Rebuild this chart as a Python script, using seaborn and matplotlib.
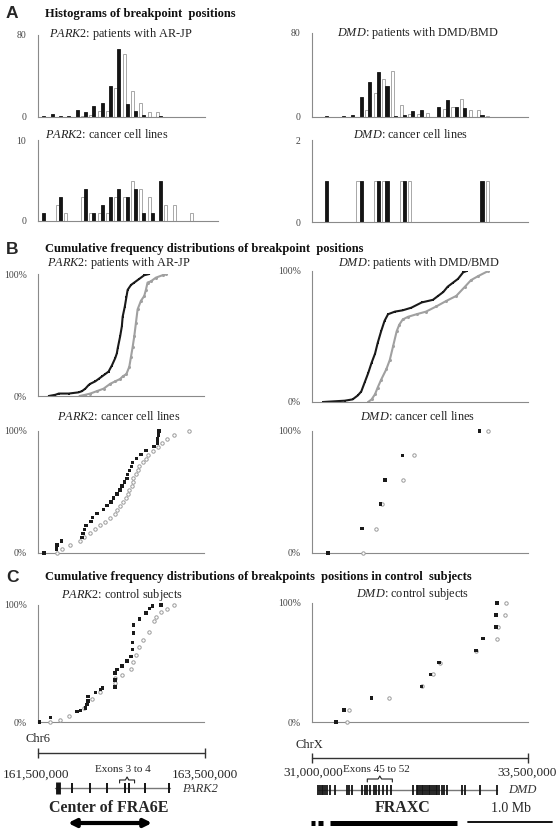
import numpy as np
import pandas as pd
import matplotlib
matplotlib.use("Agg")
import matplotlib.pyplot as plt
import seaborn as sns

# ---------------- data ----------------
PARK2_BINS = ["161.5", "161.6", "161.7", "161.8", "161.9", "162.0", "162.1", "162.2", "162.3", "162.4",
              "162.5", "162.6", "162.7", "162.8", "162.9", "163.0", "163.1", "163.2", "163.3", "163.4"]
DMD_BINS = ["31.0", "31.1", "31.2", "31.3", "31.4", "31.5", "31.6", "31.7", "31.8", "31.9",
            "32.0", "32.1", "32.2", "32.3", "32.4", "32.5", "32.6", "32.7", "32.8", "32.9",
            "33.0", "33.1", "33.2", "33.3", "33.4"]

# histogram counts (filled = black bars, open = white bars)
park2_pat_filled = [1, 3, 1, 1, 7, 5, 11, 14, 30, 66, 13, 6, 2, 0, 1, 0, 0, 0, 0, 0]
park2_pat_open = [0, 0, 0, 0, 0, 1, 2, 6, 6, 28, 61, 25, 14, 5, 5, 0, 0, 0, 0, 0]
dmd_pat_filled = [0, 1, 0, 1, 2, 19, 33, 43, 30, 1, 2, 6, 7, 0, 10, 16, 10, 9, 0, 2, 0, 0, 0, 0, 0]
dmd_pat_open = [0, 0, 0, 0, 0, 0, 7, 23, 36, 44, 11, 3, 3, 4, 0, 8, 10, 17, 7, 7, 1, 0, 0, 0, 0]
park2_cl_filled = [1, 0, 3, 0, 0, 4, 1, 2, 3, 4, 3, 4, 1, 1, 5, 0, 0, 0, 0, 0]
park2_cl_open = [0, 0, 2, 1, 0, 3, 1, 1, 1, 3, 3, 5, 4, 3, 0, 2, 2, 0, 1, 0]
dmd_cl_filled = [0, 1, 0, 0, 0, 1, 0, 1, 1, 0, 1, 0, 0, 0, 0, 0, 0, 0, 0, 1, 0, 0, 0, 0, 0]
dmd_cl_open = [0, 0, 0, 0, 0, 1, 0, 1, 1, 0, 1, 1, 0, 0, 0, 0, 0, 0, 0, 0, 1, 0, 0, 0, 0]

# cumulative distributions (position in Mb, cumulative %)
b1_fx = [161.63, 161.71, 161.75, 161.87, 161.99, 162.03, 162.07, 162.11, 162.13, 162.19, 162.23, 162.27,
         162.31, 162.35, 162.39, 162.43, 162.45, 162.46, 162.49, 162.51, 162.52, 162.545, 162.565, 162.58,
         162.62, 162.66, 162.72, 162.78, 162.84]
b1_fy = [0, 1, 2, 2, 3, 4, 6, 9, 10, 12, 14, 16, 18, 20, 25, 31, 35, 39, 49, 57, 65, 73, 81, 87, 91, 93, 96, 99, 100]
b1_ox = [162.0, 162.07, 162.13, 162.21, 162.29, 162.37, 162.43, 162.49, 162.52, 162.565, 162.60, 162.62, 162.64,
         162.66, 162.68, 162.70, 162.74, 162.78, 162.80, 162.82, 162.86, 162.92, 163.00, 163.04]
b1_oy = [0, 1, 2, 4, 6, 10, 12, 14, 16, 18, 24, 32, 40, 49, 60, 71, 78, 82, 87, 93, 94, 97, 99, 100]

b2_fx = [31.13, 31.38, 31.47, 31.53, 31.57, 31.61, 31.65, 31.69, 31.73, 31.76, 31.80, 31.84, 31.88, 31.96,
         32.05, 32.15, 32.27, 32.40, 32.46, 32.52, 32.57, 32.63, 32.69, 32.75, 32.79]
b2_fy = [0, 1, 2, 5, 8, 15, 22, 30, 37, 45, 54, 62, 67, 69, 70, 72, 76, 78, 81, 84, 88, 91, 94, 99, 100]
b2_ox = [31.65, 31.69, 31.73, 31.76, 31.80, 31.86, 31.90, 31.94, 31.98, 32.01, 32.05, 32.11, 32.21, 32.32,
         32.44, 32.55, 32.67, 32.77, 32.84, 32.92, 33.04]
b2_oy = [0, 2, 6, 11, 17, 25, 32, 43, 54, 59, 63, 65, 67, 69, 73, 77, 81, 88, 93, 96, 100]

b3_fx = [161.57, 161.72, 161.73, 161.78, 162.03, 162.04, 162.06, 162.08, 162.14, 162.16, 162.21, 162.29,
         162.33, 162.38, 162.41, 162.45, 162.49, 162.51, 162.54, 162.57, 162.58, 162.60, 162.63, 162.64,
         162.69, 162.74, 162.80, 162.90, 162.94, 162.94, 162.95, 162.96]
b3_ox = [161.73, 161.79, 161.89, 162.01, 162.06, 162.13, 162.19, 162.25, 162.31, 162.37, 162.43, 162.45,
         162.49, 162.52, 162.56, 162.58, 162.60, 162.63, 162.64, 162.65, 162.68, 162.70, 162.72, 162.76,
         162.80, 162.82, 162.88, 162.94, 162.99, 163.05, 163.14, 163.32]

b4_fx = [31.185, 31.58, 31.79, 31.845, 32.05, 32.94]
b4_ox = [31.59, 31.74, 31.81, 32.05, 32.18, 33.04]

c1_fx = [161.52, 161.65, 161.97, 162.01, 162.07, 162.09, 162.10, 162.10, 162.19, 162.25, 162.28, 162.43,
         162.43, 162.43, 162.45, 162.51, 162.57, 162.62, 162.64, 162.64, 162.65, 162.65, 162.72, 162.80,
         162.84, 162.88, 162.98]
c1_fy = [0, 4, 9, 10, 12, 15, 18, 22, 25, 28, 29, 30, 36, 42, 45, 48, 52, 56, 62, 68, 76, 83, 88, 93, 97, 99, 100]
c1_ox = [161.65, 161.77, 161.87, 162.05, 162.15, 162.25, 162.43, 162.43, 162.51, 162.62, 162.64, 162.68,
         162.72, 162.76, 162.84, 162.90, 162.92, 162.98, 163.06, 163.14]
c1_oy = [0, 2, 5, 12, 20, 26, 33, 38, 40, 45, 51, 57, 64, 70, 77, 86, 90, 94, 97, 100]

c2_fx = [31.28, 31.37, 31.69, 32.27, 32.37, 32.47, 32.90, 32.98, 33.13, 33.13, 33.14]
c2_ox = [31.41, 31.43, 31.89, 32.27, 32.40, 32.48, 32.90, 33.14, 33.15, 33.23, 33.25]

# gene structures (Mb)
park2_gene = [161.70, 163.08]
park2_exons = [161.74, 161.91, 162.13, 162.33, 162.54, 162.59, 162.79, 163.07]
dmd_gene = [31.07, 33.14]
dmd_exons = [31.07, 31.09, 31.11, 31.13, 31.15, 31.17, 31.21, 31.27, 31.41, 31.43, 31.46, 31.58, 31.61,
             31.64, 31.67, 31.72, 31.74, 31.78, 31.82, 31.87, 31.91, 32.17, 32.21, 32.23, 32.25, 32.27,
             32.29, 32.31, 32.33, 32.35, 32.37, 32.39, 32.41, 32.43, 32.45, 32.47, 32.50, 32.53, 32.56,
             32.74, 32.77, 32.94, 33.14]
fraxc_span = [31.21, 32.68]
fraxc_dashes = [[30.99, 31.03], [31.07, 31.13]]
fra6e_span = [161.86, 162.87]

# ---------------- style ----------------
sns.set_theme(style="white")
plt.rcParams["font.family"] = ["Liberation Serif", "DejaVu Serif"]
plt.rcParams["mathtext.fontset"] = "custom"
plt.rcParams["mathtext.rm"] = "Liberation Serif"
plt.rcParams["mathtext.it"] = "Liberation Serif:italic"
plt.rcParams["mathtext.bf"] = "Liberation Serif:bold"

W, H = 559, 832
fig = plt.figure(figsize=(W / 100, H / 100), dpi=100)
fig.patch.set_facecolor("white")

DARK = "#141414"
GREY = "#9a9a9a"
AXC = "#8a8a8a"


def ax_px(x0, y0, x1, y1):
    return fig.add_axes([x0 / W, 1 - y1 / H, (x1 - x0) / W, (y1 - y0) / H])


def ftext(x, y, s, **kw):
    kw.setdefault("ha", "center")
    kw.setdefault("va", "center")
    fig.text(x / W, 1 - y / H, s, **kw)


def base_style(ax):
    ax.set_facecolor("none")
    for side in ["top", "right"]:
        ax.spines[side].set_visible(False)
    for side in ["left", "bottom"]:
        ax.spines[side].set_color(AXC)
        ax.spines[side].set_linewidth(0.8)
    ax.set_xlabel("")
    ax.set_ylabel("")
    ax.tick_params(axis="both", colors=AXC, labelcolor="#444444", labelsize=7,
                   length=2.5, width=0.6, direction="out", pad=6)


def hist_panel(ax, bins, filled, opened, ymax, xmax=None):
    n = len(bins)
    df = pd.DataFrame({"bin": bins + bins,
                       "series": ["open"] * n + ["filled"] * n,
                       "count": opened + filled})
    sns.barplot(data=df, x="bin", y="count", hue="series", order=bins,
                hue_order=["open", "filled"], palette={"open": "white", "filled": DARK},
                width=0.72, edgecolor=GREY, linewidth=0.6, legend=False, errorbar=None, ax=ax)
    for p in ax.patches:
        fc = p.get_facecolor()
        if fc[0] < 0.5:
            p.set_edgecolor(DARK)
    base_style(ax)
    ax.set_xlim(-0.5, (n - 0.5) if xmax is None else xmax)
    ax.set_ylim(0, ymax)
    ax.set_yticks([0, ymax])
    ax.set_yticklabels(["0", str(ymax)])
    ax.set_xticks(np.arange(-0.5, n, 1.0))
    ax.set_xticklabels([])
    ax.tick_params(axis="x", length=1.5)


def ecdf_axes(ax, xlim):
    base_style(ax)
    ax.set_xlim(*xlim)
    ax.set_ylim(0, 100)
    ax.set_xticks(np.arange(xlim[0], xlim[1] + 0.01, 0.5))
    ax.set_xticklabels([])
    ax.set_yticks([0, 100])
    ax.set_yticklabels(["0%", "100%"])
    ax.tick_params(axis="y", length=0, pad=8)


def ecdf_lines(ax, fx, fy, ox, oy):
    sns.lineplot(x=ox, y=oy, estimator=None, sort=False, color="#a0a0a0", linewidth=1.5,
                 marker="o", markersize=2.2, markeredgewidth=0, ax=ax)
    sns.lineplot(x=fx, y=fy, estimator=None, sort=False, color="#1a1a1a", linewidth=1.5,
                 marker="s", markersize=2.0, markeredgewidth=0, ax=ax)


def ecdf_dots(ax, fx, fy, ox, oy):
    sns.scatterplot(x=ox, y=oy, color="white", edgecolor="#9a9a9a", linewidth=0.7, s=6,
                    marker="o", ax=ax, zorder=3, clip_on=False)
    sns.scatterplot(x=fx, y=fy, color="#1a1a1a", edgecolor="none", s=6,
                    marker="s", ax=ax, zorder=4, clip_on=False)


def rank_pct(xs):
    n = len(xs)
    return list(np.arange(n) * 100.0 / (n - 1))


TITLE_KW = dict(fontsize=8.8, color="#222222")
HEAD_KW = dict(fontsize=9, fontweight="bold", ha="left", color="#111111")
LETTER_KW = dict(fontsize=12.5, fontweight="bold", family=["Liberation Sans", "DejaVu Sans"], ha="left")

# ---------------- panel A ----------------
ftext(6, 14, "A", **LETTER_KW)
ftext(45, 14, "Histograms of breakpoint  positions", **HEAD_KW)

ax = ax_px(38, 35, 205, 117)
hist_panel(ax, PARK2_BINS, park2_pat_filled, park2_pat_open, 80)
ftext(121, 34, r"$\mathit{PARK2}$: patients with AR-JP", **TITLE_KW)

ax = ax_px(312, 33, 528, 117)
hist_panel(ax, DMD_BINS, dmd_pat_filled, dmd_pat_open, 80)
ftext(418, 33, r"$\mathit{DMD}$: patients with DMD/BMD", **TITLE_KW)

ax = ax_px(38, 140, 218, 221)
hist_panel(ax, PARK2_BINS, park2_cl_filled, park2_cl_open, 10, xmax=21.05)
ftext(107, 135, r"$\mathit{PARK2}$: cancer cell lines", **TITLE_KW)

ax = ax_px(312, 140, 528, 222)
hist_panel(ax, DMD_BINS, dmd_cl_filled, dmd_cl_open, 2)
ftext(410, 135, r"$\mathit{DMD}$: cancer cell lines", **TITLE_KW)

# ---------------- panel B ----------------
ftext(6, 249, "B", **LETTER_KW)
ftext(45, 249, "Cumulative frequency distributions of breakpoint  positions", **HEAD_KW)

ax = ax_px(38, 274, 204, 396)
ecdf_axes(ax, (161.5, 163.5))
ecdf_lines(ax, b1_fx, b1_fy, b1_ox, b1_oy)
ftext(119, 263, r"$\mathit{PARK2}$: patients with AR-JP", **TITLE_KW)

ax = ax_px(312, 271, 528, 402)
ecdf_axes(ax, (31.0, 33.5))
ecdf_lines(ax, b2_fx, b2_fy, b2_ox, b2_oy)
ftext(419, 263, r"$\mathit{DMD}$: patients with DMD/BMD", **TITLE_KW)

ax = ax_px(38, 431, 204, 553)
ecdf_axes(ax, (161.5, 163.5))
ecdf_dots(ax, b3_fx, rank_pct(b3_fx), b3_ox, rank_pct(b3_ox))
ftext(119, 416, r"$\mathit{PARK2}$: cancer cell lines", **TITLE_KW)

ax = ax_px(312, 431, 528, 553)
ecdf_axes(ax, (31.0, 33.5))
ecdf_dots(ax, b4_fx, rank_pct(b4_fx), b4_ox, rank_pct(b4_ox))
ftext(417, 416, r"$\mathit{DMD}$: cancer cell lines", **TITLE_KW)

# ---------------- panel C ----------------
ftext(6, 577, "C", **LETTER_KW)
ftext(45, 577, "Cumulative frequency distributions of breakpoints  positions in control  subjects", **HEAD_KW)

ax = ax_px(38, 605, 204, 722)
ecdf_axes(ax, (161.5, 163.5))
ecdf_dots(ax, c1_fx, c1_fy, c1_ox, c1_oy)
ftext(122, 595, r"$\mathit{PARK2}$: control subjects", **TITLE_KW)

ax = ax_px(312, 603, 528, 722)
ecdf_axes(ax, (31.0, 33.5))
ecdf_dots(ax, c2_fx, rank_pct(c2_fx), c2_ox, rank_pct(c2_ox))
ftext(413, 594, r"$\mathit{DMD}$: control subjects", **TITLE_KW)

# ---------------- gene maps ----------------
# PARK2 / Chr6 (same Mb scale as the panels above)
pk = 83.25
axl = ax_px(0, 728, 280, 832)
axl.set_xlim(161.5 - 38 / pk, 161.5 + 242 / pk)
axl.set_ylim(832, 728)
axl.axis("off")
axl.plot([161.5, 163.5], [753, 753], color="#333333", lw=1.0)
axl.vlines([161.5, 163.5], 748, 758, color="#333333", lw=1.0)
axl.text(161.5, 739, "Chr6", ha="center", va="center", fontsize=9)
axl.text(161.48, 775, "161,500,000", ha="center", va="center", fontsize=9.5)
axl.text(163.5, 775, "163,500,000", ha="center", va="center", fontsize=9.5)
axl.text(162.52, 770, "Exons 3 to 4", ha="center", va="center", fontsize=8)
bx0, bx1 = 162.48, 162.66
bm = (bx0 + bx1) / 2
axl.plot([bx0, bx0, bm - 0.02, bm, bm + 0.02, bx1, bx1], [783, 780, 780, 777, 780, 780, 783],
         color="#222222", lw=0.8)
axl.plot(park2_gene, [788, 788], color="#777777", lw=1.0)
axl.vlines(park2_exons[1:], 783, 793, color=DARK, lw=1.4)
axl.vlines(park2_exons[:1], 782, 794, color=DARK, lw=3.5)
axl.text(163.44, 789, "PARK2", ha="center", va="center", fontsize=9, style="italic", color="#333333")
axl.text(162.35, 808, "Center of FRA6E", ha="center", va="center", fontsize=11.5, fontweight="bold")
axl.annotate("", xy=(fra6e_span[1], 823), xytext=(fra6e_span[0], 823),
             arrowprops=dict(arrowstyle="<|-|>", lw=3, color="black", mutation_scale=11,
                             shrinkA=0, shrinkB=0))

# DMD / ChrX
dk = 86.4
axr = ax_px(280, 728, 559, 832)
axr.set_xlim(31.0 - 32 / dk, 31.0 + 247 / dk)
axr.set_ylim(832, 728)
axr.axis("off")
axr.plot([31.0, 33.5], [758, 758], color="#333333", lw=1.0)
axr.vlines([31.0, 33.5], 753, 763, color="#333333", lw=1.0)
axr.text(30.97, 745, "ChrX", ha="center", va="center", fontsize=9)
axr.text(31.02, 773, "31,000,000", ha="center", va="center", fontsize=9.5)
axr.text(33.49, 773, "33,500,000", ha="center", va="center", fontsize=9.5)
axr.text(31.74, 770, "Exons 45 to 52", ha="center", va="center", fontsize=8)
dx0, dx1 = 31.64, 31.93
dm = (dx0 + dx1) / 2
axr.plot([dx0, dx0, dm - 0.02, dm, dm + 0.02, dx1, dx1], [782, 779, 779, 776, 779, 779, 782],
         color="#222222", lw=0.8)
axr.plot(dmd_gene, [790, 790], color="#777777", lw=1.0)
axr.vlines(dmd_exons, 785, 795, color=DARK, lw=1.3)
axr.text(33.44, 790, "DMD", ha="center", va="center", fontsize=9, style="italic", color="#333333")
axr.text(32.05, 808, "FRAXC", ha="center", va="center", fontsize=11.5, fontweight="bold")
axr.text(33.30, 808, "1.0 Mb", ha="center", va="center", fontsize=10)
axr.plot(fraxc_span, [823, 823], color="black", lw=3.6, solid_capstyle="butt")
for seg in fraxc_dashes:
    axr.plot(seg, [823, 823], color="black", lw=3.6, solid_capstyle="butt")
axr.plot([32.81, 33.78], [822, 822], color="black", lw=1.3, clip_on=False)

fig.savefig("out.png", dpi=100, facecolor="white")
